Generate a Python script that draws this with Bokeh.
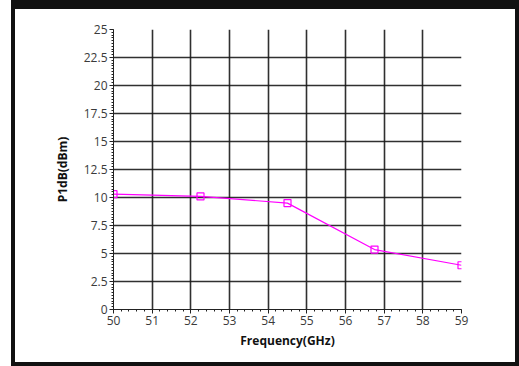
from bokeh.plotting import figure
from bokeh.models import FixedTicker, ColumnDataSource, Div
from bokeh.layouts import column
from bokeh.embed import file_html
from bokeh.resources import INLINE

freq = [50, 52.25, 54.5, 56.75, 59]
p1db = [10.3, 10.1, 9.5, 5.35, 3.95]

x_ticks = [50, 51, 52, 53, 54, 55, 56, 57, 58, 59]
y_ticks = [0, 2.5, 5, 7.5, 10, 12.5, 15, 17.5, 20, 22.5, 25]
y_labels = ["0", "2.5", "5", "7.5", "10", "12.5", "15", "17.5", "20", "22.5", "25"]
x_label = "Frequency(GHz)"
y_label = "P1dB(dBm)"

FONT = "Open Sans"
LINE = "#ff00ff"

p = figure(width=508, height=361, output_backend="svg", toolbar_location=None,
           x_range=(50, 59), y_range=(0, 25),
           min_border_left=102, min_border_right=58, min_border_top=24, min_border_bottom=57)
p.styles = {"outline": "4px solid #111111", "outline-offset": "-4px",
            "background-color": "white"}
p.title.visible = False

p.background_fill_color = "white"
p.border_fill_color = None
p.outline_line_color = None

x_minor = [round(50 + 0.2 * i, 2) for i in range(46)]
y_minor = [round(0.25 * i, 2) for i in range(101)]
p.xaxis.ticker = FixedTicker(ticks=x_ticks, minor_ticks=x_minor)
p.yaxis.ticker = FixedTicker(ticks=y_ticks, minor_ticks=y_minor)
p.yaxis.major_label_overrides = {t: l for t, l in zip(y_ticks, y_labels)}

for ax in (p.xaxis, p.yaxis):
    ax.axis_line_color = "#222222"
    ax.axis_line_width = 1
    ax.major_tick_line_color = "#222222"
    ax.minor_tick_line_color = "#222222"
    ax.major_tick_out = 4
    ax.major_tick_in = 0
    ax.minor_tick_out = 2
    ax.minor_tick_in = 0
    ax.major_label_text_font = FONT
    ax.major_label_text_font_size = "12px"
    ax.major_label_text_color = "#3a3a3a"
    ax.axis_label_text_font = FONT
    ax.axis_label_text_font_size = "12px"
    ax.axis_label_text_font_style = "bold"
    ax.axis_label_text_color = "#111111"

p.xaxis.axis_label = x_label
p.yaxis.axis_label = y_label
p.xaxis.major_label_standoff = 2
p.yaxis.major_label_standoff = 2
p.xaxis.axis_label_standoff = 4
p.yaxis.axis_label_standoff = 10

p.xgrid.ticker = FixedTicker(ticks=x_ticks)
p.ygrid.ticker = FixedTicker(ticks=y_ticks)
for g in (p.xgrid, p.ygrid):
    g.grid_line_color = "#1a1a1a"
    g.grid_line_width = 1.6
    g.grid_line_alpha = 0.9

src = ColumnDataSource(dict(x=freq, y=p1db))
p.line("x", "y", source=src, line_color=LINE, line_width=1.2)
p.scatter("x", "y", source=src, marker="square", size=7, fill_color=None,
          line_color=LINE, line_width=1.2)

top_bar = Div(text="", width=508, height=5, margin=(0, 0, 0, 0),
              styles={"background-color": "#111111", "min-height": "5px"})
layout = column(top_bar, p, spacing=0, styles={"margin-left": "11px"})

open("out.html", "w").write(file_html(layout, INLINE))
